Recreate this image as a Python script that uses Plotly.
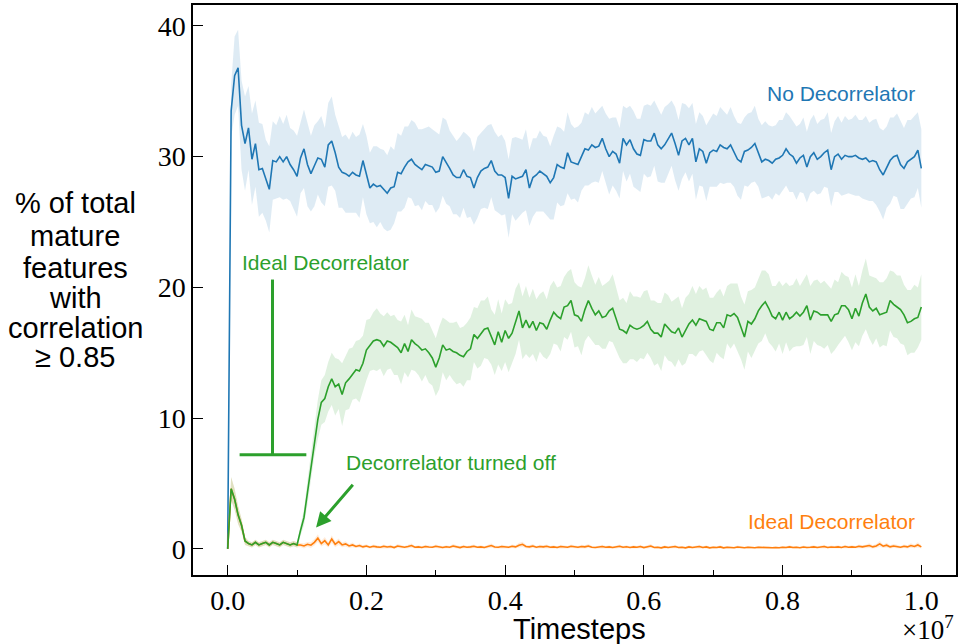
import plotly.graph_objects as go

# Timestep grid: 201 samples, every 50k steps from 0 to 1e7
timesteps = [i * 50_000 for i in range(201)]

# Mean % of mature features with correlation >= 0.85 (no decorrelator)
no_decor_mean = [
    0.0, 33.5, 36.2, 36.8, 32.4, 31.0, 32.2, 29.8, 31.0, 29.0,
    29.1, 28.2, 27.5, 29.7, 29.6, 30.0, 29.6, 30.0, 29.4, 29.0,
    28.5, 29.9, 30.6, 29.4, 28.7, 29.3, 29.9, 29.8, 29.2, 30.9,
    31.2, 30.3, 29.2, 28.8, 28.7, 28.5, 28.8, 28.6, 28.5, 29.7,
    28.6, 27.6, 27.9, 27.7, 27.8, 27.5, 27.2, 27.6, 27.7, 28.8,
    28.7, 29.2, 29.6, 29.8, 29.4, 29.2, 29.0, 29.4, 29.3, 29.2,
    28.8, 28.9, 30.0, 29.6, 29.1, 28.6, 28.4, 28.4, 29.0, 28.5,
    28.4, 27.6, 28.4, 28.9, 29.1, 29.2, 29.7, 28.9, 28.6, 28.6,
    28.4, 26.8, 28.5, 28.3, 28.4, 28.5, 29.0, 27.6, 28.4, 28.6,
    28.9, 28.7, 28.5, 28.0, 28.4, 29.4, 29.2, 29.1, 30.3, 29.6,
    29.5, 29.4, 30.0, 30.6, 30.5, 30.9, 30.7, 30.8, 31.4, 30.6,
    30.0, 30.4, 30.2, 29.5, 31.4, 30.9, 31.3, 30.6, 30.2, 30.1,
    31.3, 31.2, 31.2, 31.8, 30.9, 30.6, 30.9, 31.3, 31.8, 31.0,
    30.1, 31.2, 31.4, 30.9, 31.4, 29.6, 30.6, 30.4, 29.5, 30.3,
    30.5, 30.4, 30.9, 30.7, 30.6, 30.9, 30.4, 29.8, 29.6, 30.4,
    30.5, 30.7, 31.0, 30.3, 29.6, 29.8, 29.7, 29.5, 29.8, 29.9,
    30.1, 30.6, 30.2, 30.0, 29.5, 29.9, 30.1, 29.2, 30.0, 30.3,
    29.8, 30.0, 30.3, 30.5, 29.0, 30.0, 30.2, 29.8, 30.1, 30.0,
    30.0, 30.1, 29.9, 29.8, 29.9, 29.6, 29.7, 29.6, 29.0, 28.6,
    29.2, 29.7, 30.0, 30.1, 29.4, 29.1, 29.6, 29.8, 30.0, 30.5,
    29.1,
]
no_decor_spread = [
    0.0, 2.0, 3.0, 2.9, 3.4, 3.6, 3.2, 3.5, 3.3, 3.6,
    3.4, 3.1, 3.3, 3.0, 2.8, 3.1, 2.9, 3.2, 2.8, 3.0,
    3.1, 2.7, 3.0, 3.2, 2.9, 3.1, 2.8, 3.3, 3.0, 3.2,
    3.4, 2.9, 3.1, 2.7, 3.0, 2.8, 3.1, 2.9, 3.2, 2.8,
    3.0, 2.7, 2.9, 3.1, 2.8, 3.0, 2.9, 3.2, 2.8, 3.0,
    2.9, 3.1, 2.7, 3.0, 3.2, 2.9, 3.1, 2.8, 3.0, 2.9,
    3.1, 2.8, 3.0, 3.2, 2.9, 3.0, 2.8, 3.1, 2.9, 3.2,
    3.0, 2.8, 3.1, 2.9, 3.0, 3.2, 2.8, 3.0, 2.9, 3.1,
    2.8, 3.0, 2.9, 3.2, 3.0, 2.8, 3.1, 2.9, 3.0, 2.8,
    3.1, 2.9, 3.0, 2.8, 3.2, 2.9, 3.0, 2.8, 3.1, 2.9,
    2.7, 2.9, 2.6, 2.8, 2.7, 2.9, 2.6, 2.8, 2.5, 2.7,
    2.9, 2.6, 2.8, 2.7, 2.5, 2.8, 2.6, 2.9, 2.7, 2.8,
    2.6, 2.8, 2.7, 2.5, 2.8, 2.6, 2.9, 2.7, 2.5, 2.8,
    2.7, 2.9, 2.6, 2.8, 2.7, 2.9, 2.8, 2.7, 2.9, 2.6,
    2.8, 2.7, 2.9, 2.8, 2.6, 2.9, 2.7, 2.8, 2.9, 2.6,
    2.8, 2.7, 2.9, 2.6, 2.8, 2.9, 2.7, 2.8, 2.6, 2.9,
    2.7, 2.8, 2.9, 2.7, 2.8, 2.6, 2.9, 2.7, 2.8, 2.9,
    2.7, 2.8, 2.6, 2.9, 2.8, 2.7, 2.9, 2.8, 3.0, 2.8,
    2.9, 3.1, 2.9, 3.0, 3.2, 3.0, 3.1, 3.3, 3.2, 3.4,
    3.1, 3.3, 3.0, 3.2, 3.4, 3.1, 3.2, 3.0, 3.1, 2.9,
    3.0,
]

# Ideal decorrelator, turned off at 1e6 steps
ideal_off_mean = [
    0.0, 4.6, 3.8, 2.6, 1.8, 0.6, 0.4, 0.3, 0.5, 0.3,
    0.4, 0.5, 0.3, 0.5, 0.4, 0.3, 0.5, 0.4, 0.3, 0.4,
    0.3, 1.4, 2.4, 4.3, 6.2, 8.4, 9.9, 11.2, 11.5, 12.4,
    13.0, 12.4, 12.6, 11.8, 12.7, 13.0, 13.4, 13.7, 13.6, 14.2,
    15.2, 15.6, 15.9, 16.0, 15.9, 15.5, 15.9, 15.8, 15.6, 15.4,
    15.0, 15.7, 15.1, 16.0, 15.7, 15.5, 15.2, 15.3, 15.0, 14.6,
    13.9, 14.6, 15.6, 15.2, 15.3, 15.1, 15.0, 14.8, 14.7, 15.1,
    15.3, 16.4, 16.1, 16.5, 16.8, 16.9, 16.2, 15.6, 16.6, 15.8,
    16.7, 16.1, 16.5, 17.4, 18.2, 16.9, 17.5, 16.9, 17.4, 16.7,
    17.3, 17.2, 16.8, 17.5, 18.1, 17.8, 17.6, 18.5, 18.6, 19.0,
    17.9, 17.8, 17.4, 18.3, 19.0, 18.4, 17.9, 18.2, 17.7, 17.8,
    18.2, 18.4, 17.6, 16.8, 16.7, 16.5, 17.1, 16.9, 16.8, 16.9,
    17.1, 17.4, 16.8, 16.5, 16.5, 16.2, 17.2, 16.9, 16.6, 16.5,
    16.9, 16.2, 16.7, 17.2, 17.5, 17.1, 17.6, 17.5, 17.4, 16.8,
    16.7, 17.3, 17.3, 16.9, 17.9, 17.8, 18.0, 17.7, 16.9, 16.2,
    17.4, 17.2, 17.6, 18.2, 18.6, 18.9, 18.4, 17.8, 17.6, 18.1,
    17.5, 18.1, 17.6, 17.8, 18.1, 17.8, 18.1, 18.6, 17.5, 18.2,
    18.1, 17.9, 17.9, 17.9, 17.4, 17.9, 18.0, 18.6, 18.6, 18.3,
    17.6, 18.4, 17.8, 18.8, 19.5, 18.5, 18.2, 18.4, 17.9, 18.0,
    18.1, 19.0, 18.7, 18.5, 18.3, 17.9, 17.3, 17.4, 17.6, 17.7,
    18.5,
]
ideal_off_spread = [
    0.0, 0.9, 0.8, 0.7, 0.5, 0.3, 0.2, 0.2, 0.2, 0.2,
    0.2, 0.2, 0.2, 0.2, 0.2, 0.2, 0.2, 0.2, 0.2, 0.2,
    0.2, 0.4, 0.6, 0.9, 1.1, 1.3, 1.5, 1.7, 1.8, 1.9,
    2.0, 2.2, 1.9, 2.4, 2.1, 2.3, 2.0, 2.2, 2.4, 2.1,
    2.3, 2.0, 2.2, 2.4, 2.1, 2.3, 2.2, 2.0, 2.3, 2.1,
    2.4, 2.2, 2.0, 2.3, 2.1, 2.2, 2.4, 2.0, 2.3, 2.1,
    2.2, 2.4, 2.1, 2.3, 2.0, 2.2, 2.4, 2.1, 2.3, 2.2,
    2.4, 2.1, 2.3, 2.5, 2.2, 2.4, 2.1, 2.3, 2.5, 2.2,
    2.4, 2.6, 2.3, 2.5, 2.2, 2.4, 2.6, 2.3, 2.5, 2.4,
    2.2, 2.5, 2.3, 2.6, 2.4, 2.2, 2.5, 2.3, 2.6, 2.4,
    2.5, 2.3, 2.6, 2.4, 2.7, 2.5, 2.3, 2.6, 2.4, 2.5,
    2.3, 2.6, 2.4, 2.2, 2.5, 2.3, 2.6, 2.4, 2.5, 2.3,
    2.6, 2.4, 2.2, 2.5, 2.3, 2.6, 2.4, 2.5, 2.3, 2.6,
    2.4, 2.2, 2.5, 2.3, 2.6, 2.4, 2.5, 2.3, 2.6, 2.4,
    2.5, 2.3, 2.6, 2.4, 2.2, 2.5, 2.3, 2.6, 2.4, 2.5,
    2.3, 2.6, 2.4, 2.5, 2.7, 2.4, 2.6, 2.3, 2.5, 2.4,
    2.6, 2.3, 2.5, 2.4, 2.6, 2.3, 2.5, 2.4, 2.6, 2.3,
    2.5, 2.4, 2.6, 2.3, 2.5, 2.7, 2.4, 2.6, 2.3, 2.5,
    2.4, 2.6, 2.3, 2.5, 2.7, 2.4, 2.6, 2.3, 2.5, 2.4,
    2.6, 2.3, 2.5, 2.4, 2.6, 2.3, 2.5, 2.4, 2.6, 2.3,
    2.5,
]

# Ideal decorrelator kept on (identical run up to 1e6 steps)
ideal_on_mean = ideal_off_mean[:21] + [
    0.30, 0.22, 0.35, 0.28, 0.50, 0.82, 0.40, 0.62, 0.30, 0.75,
    0.35, 0.55, 0.30, 0.38, 0.22, 0.30, 0.18, 0.25, 0.15, 0.22,
    0.12, 0.20, 0.15, 0.12, 0.20, 0.14, 0.18, 0.10, 0.22, 0.15,
    0.12, 0.18, 0.25, 0.12, 0.15, 0.10, 0.18, 0.14, 0.12, 0.20,
    0.15, 0.10, 0.16, 0.12, 0.22, 0.15, 0.10, 0.18, 0.12, 0.15,
    0.20, 0.12, 0.15, 0.10, 0.18, 0.25, 0.14, 0.12, 0.18, 0.15,
    0.12, 0.20, 0.15, 0.28, 0.35, 0.18, 0.15, 0.22, 0.12, 0.18,
    0.15, 0.20, 0.12, 0.15, 0.10, 0.18, 0.14, 0.12, 0.20, 0.15,
    0.12, 0.18, 0.15, 0.22, 0.12, 0.10, 0.15, 0.18, 0.12, 0.15,
    0.10, 0.14, 0.20, 0.12, 0.16, 0.10, 0.15, 0.12, 0.18, 0.10,
    0.14, 0.22, 0.10, 0.12, 0.08, 0.15, 0.10, 0.12, 0.18, 0.10,
    0.12, 0.08, 0.15, 0.10, 0.12, 0.18, 0.10, 0.15, 0.08, 0.12,
    0.10, 0.15, 0.08, 0.12, 0.10, 0.08, 0.14, 0.10, 0.08, 0.12,
    0.10, 0.08, 0.12, 0.10, 0.08, 0.10, 0.08, 0.10, 0.08, 0.12,
    0.10, 0.15, 0.10, 0.12, 0.08, 0.14, 0.10, 0.12, 0.15, 0.10,
    0.12, 0.18, 0.10, 0.14, 0.12, 0.15, 0.10, 0.18, 0.12, 0.15,
    0.12, 0.20, 0.15, 0.18, 0.25, 0.15, 0.22, 0.38, 0.20, 0.28,
    0.15, 0.22, 0.18, 0.12, 0.20, 0.15, 0.25, 0.18, 0.30, 0.15,
]
ideal_on_spread = ideal_off_spread[:21] + [
    0.15, 0.20, 0.18, 0.22, 0.25, 0.30, 0.22, 0.28, 0.20, 0.30,
    0.22, 0.25, 0.18, 0.20, 0.15, 0.18, 0.12, 0.15, 0.12, 0.14,
    0.10, 0.14, 0.12, 0.10, 0.14, 0.12, 0.13, 0.10, 0.15, 0.12,
    0.10, 0.13, 0.16, 0.10, 0.12, 0.10, 0.13, 0.11, 0.10, 0.14,
    0.12, 0.10, 0.12, 0.10, 0.15, 0.12, 0.10, 0.13, 0.10, 0.12,
    0.14, 0.10, 0.12, 0.10, 0.13, 0.16, 0.11, 0.10, 0.13, 0.12,
    0.10, 0.14, 0.12, 0.18, 0.20, 0.13, 0.12, 0.15, 0.10, 0.13,
    0.12, 0.14, 0.10, 0.12, 0.08, 0.13, 0.11, 0.10, 0.14, 0.12,
    0.10, 0.13, 0.12, 0.15, 0.10, 0.08, 0.12, 0.13, 0.10, 0.12,
    0.08, 0.11, 0.14, 0.10, 0.12, 0.08, 0.12, 0.10, 0.13, 0.08,
    0.11, 0.15, 0.08, 0.10, 0.07, 0.12, 0.08, 0.10, 0.13, 0.08,
    0.10, 0.07, 0.12, 0.08, 0.10, 0.13, 0.08, 0.12, 0.07, 0.10,
    0.08, 0.12, 0.07, 0.10, 0.08, 0.07, 0.11, 0.08, 0.07, 0.10,
    0.08, 0.07, 0.10, 0.08, 0.07, 0.08, 0.07, 0.08, 0.07, 0.10,
    0.08, 0.12, 0.08, 0.10, 0.07, 0.11, 0.08, 0.10, 0.12, 0.08,
    0.10, 0.13, 0.08, 0.11, 0.10, 0.12, 0.08, 0.13, 0.10, 0.12,
    0.10, 0.14, 0.12, 0.13, 0.18, 0.12, 0.15, 0.22, 0.14, 0.18,
    0.12, 0.15, 0.13, 0.10, 0.14, 0.12, 0.17, 0.13, 0.20, 0.12,
]

x_tick_vals = [0, 2e6, 4e6, 6e6, 8e6, 1e7]
x_tick_text = ["0.0", "0.2", "0.4", "0.6", "0.8", "1.0"]
x_minor_vals = [1e6, 3e6, 5e6, 7e6, 9e6]
y_tick_vals = [0, 10, 20, 30, 40]
y_tick_text = ["0", "10", "20", "30", "40"]

BLUE = "#1f77b4"
GREEN = "#2ca02c"
ORANGE = "#ff7f0e"


def rgba(hex_color, alpha):
    h = hex_color.lstrip("#")
    r, g, b = int(h[0:2], 16), int(h[2:4], 16), int(h[4:6], 16)
    return f"rgba({r},{g},{b},{alpha})"


fig = go.Figure()


def add_series(mean, spread, color):
    upper = [m + s for m, s in zip(mean, spread)]
    lower = [max(m - s, 0.0) for m, s in zip(mean, spread)]
    fig.add_trace(go.Scatter(x=timesteps, y=upper, mode="lines",
                             line=dict(width=0), hoverinfo="skip",
                             showlegend=False))
    fig.add_trace(go.Scatter(x=timesteps, y=lower, mode="lines",
                             line=dict(width=0), fill="tonexty",
                             fillcolor=rgba(color, 0.15), hoverinfo="skip",
                             showlegend=False))
    fig.add_trace(go.Scatter(x=timesteps, y=mean, mode="lines",
                             line=dict(color=color, width=1.6),
                             showlegend=False))


add_series(no_decor_mean, no_decor_spread, BLUE)
add_series(ideal_on_mean, ideal_on_spread, ORANGE)
add_series(ideal_off_mean, ideal_off_spread, GREEN)

# Bracket marking the period with the ideal decorrelator active
fig.add_shape(type="line", x0=0.0646e7, x1=0.0646e7, y0=7.19, y1=20.6,
              xref="x", yref="y", line=dict(color=GREEN, width=3))
fig.add_shape(type="line", x0=0.0172e7, x1=0.1134e7, y0=7.19, y1=7.19,
              xref="x", yref="y", line=dict(color=GREEN, width=3))

label_font = dict(family="Liberation Sans, Arial, sans-serif", size=21)

fig.add_annotation(x=0.9935e7, y=34.8, text="No Decorrelator", showarrow=False,
                   xanchor="right", yanchor="middle",
                   font=dict(label_font, color=BLUE))
fig.add_annotation(x=0.0172e7, y=21.9, text="Ideal Decorrelator", showarrow=False,
                   xanchor="left", yanchor="middle",
                   font=dict(label_font, color=GREEN))
fig.add_annotation(x=0.168e7, y=6.58, text="Decorrelator turned off",
                   showarrow=False, xanchor="left", yanchor="middle",
                   font=dict(label_font, color=GREEN))
fig.add_annotation(x=0.9935e7, y=2.07, text="Ideal Decorrelator", showarrow=False,
                   xanchor="right", yanchor="middle",
                   font=dict(label_font, color=ORANGE))

# Arrow pointing at the switch-off moment
fig.add_annotation(x=0.1274e7, y=1.63, ax=0.1823e7, ay=5.02,
                   xref="x", yref="y", axref="x", ayref="y",
                   text="", showarrow=True, arrowhead=2, arrowsize=1,
                   arrowwidth=3, arrowcolor=GREEN)

# Y-axis label, one line per annotation for tight spacing
ylabel_lines = ["% of total", "mature", "features", "with", "correlation",
                "≥ 0.85"]
ylabel_y = [0.6526, 0.5947, 0.5386, 0.486, 0.4333, 0.3825]
for line, yy in zip(ylabel_lines, ylabel_y):
    fig.add_annotation(x=-0.154, y=yy, xref="paper", yref="paper", text=line,
                       showarrow=False, xanchor="center", yanchor="middle",
                       font=dict(family="Liberation Sans, Arial, sans-serif",
                                 size=29, color="black"))

fig.add_annotation(x=0.506, y=-0.095, xref="paper", yref="paper",
                   text="Timesteps", showarrow=False, xanchor="center",
                   yanchor="middle",
                   font=dict(family="Liberation Sans, Arial, sans-serif",
                             size=29, color="black"))
fig.add_annotation(x=1.0, y=-0.093, xref="paper", yref="paper",
                   text="×10<sup>7</sup>", showarrow=False, xanchor="right",
                   yanchor="middle",
                   font=dict(family="Liberation Serif, serif", size=27,
                             color="black"))

tick_font = dict(family="Liberation Serif, serif", size=28, color="black")

fig.update_xaxes(
    range=[-0.05e7, 1.05e7], tickmode="array", tickvals=x_tick_vals,
    ticktext=x_tick_text, ticks="inside", ticklen=10, tickwidth=1.3,
    tickcolor="black", showline=True, linecolor="black", linewidth=1.5,
    mirror=True, showgrid=False, zeroline=False, tickfont=tick_font,
    minor=dict(tickmode="array", tickvals=x_minor_vals, ticks="inside",
               ticklen=5, tickwidth=1.1, tickcolor="black", showgrid=False),
)
fig.update_yaxes(
    range=[-2.0, 41.6], tickmode="array", tickvals=y_tick_vals,
    ticktext=y_tick_text, ticks="inside", ticklen=10, tickwidth=1.3,
    tickcolor="black", showline=True, linecolor="black", linewidth=1.5,
    mirror=True, showgrid=False, zeroline=False, tickfont=tick_font,
)

fig.update_layout(
    width=959, height=644,
    margin=dict(l=193, r=1, t=5, b=69),
    plot_bgcolor="white", paper_bgcolor="white",
    showlegend=False,
)

fig.write_html("out.html")
